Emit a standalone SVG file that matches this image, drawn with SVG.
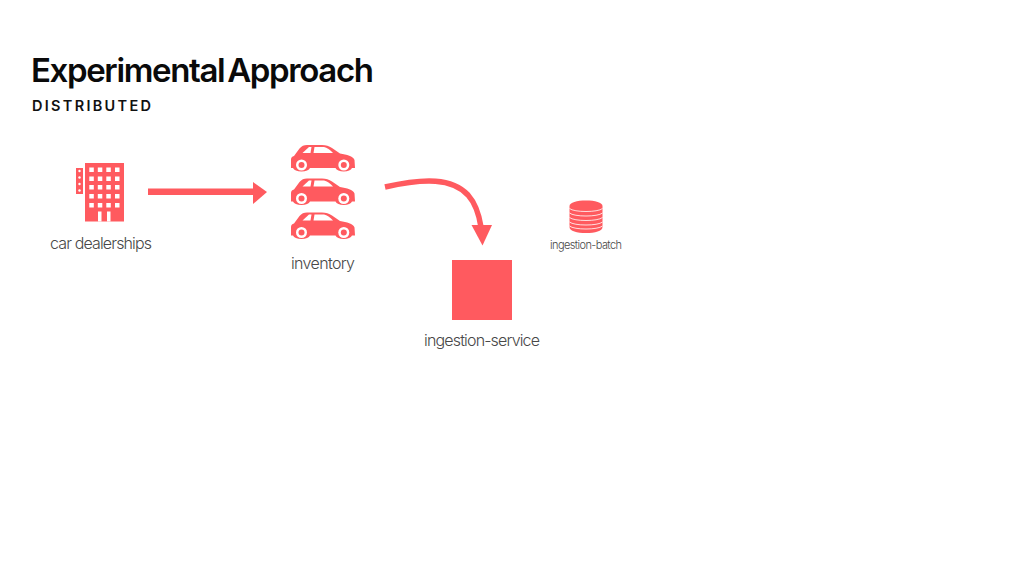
<svg xmlns="http://www.w3.org/2000/svg" width="1024" height="576" viewBox="0 0 1024 576">
<style>
.f{fill:#ff5a5f}
.w{fill:#fff}
.l{font-family:"Inter","Liberation Sans",sans-serif;font-weight:300;fill:#484848;text-anchor:middle}
.c{fill:none;stroke:#ff5a5f}
</style>
<defs>
<g id="car">
<path class="f" d="M0 15C0 13 1 12 3 11.500L8.500 4C10.500 1.500 13 0.500 16 0.500L31 0.500C35 0.500 38 1.500 41 3.500L49 9C56 10 62 11.500 63.500 15.500L64 23.500L61 23.500C60 25.500 57 27 52.800 27C48.500 27 45.500 25.500 44.500 23.500L19 23.500C18 25.500 15 27 10.500 27C6 27 3 25.500 2 23.500L0 23.500Z"/>
<path class="w" d="M11.500 8.500L18 2.500L20.500 2.500L19.500 8.500Z"/>
<path class="w" d="M23.500 2.500L33 2.500C36 3 39 5.500 42 8.500L22.500 8.500Z"/>
<circle class="w" cx="10.500" cy="20.500" r="5.500"/>
<circle class="f" cx="10.500" cy="20.500" r="3"/>
<circle class="w" cx="52.800" cy="20.500" r="5.500"/>
<circle class="f" cx="52.800" cy="20.500" r="3"/>
</g>
</defs>
<rect width="1024" height="576" fill="#fff"/>
<text x="31" y="81.500" font-family="Inter,'Liberation Sans',sans-serif" font-size="33" font-weight="600" word-spacing="-4" fill="#0a0a0a" textLength="343" lengthAdjust="spacing">Experimental Approach</text>
<text x="32" y="110.500" font-family="Inter,'Liberation Sans',sans-serif" font-size="14.500" font-weight="600" fill="#111" textLength="119" lengthAdjust="spacing">DISTRIBUTED</text>
<g id="connectors">
<path class="c" d="M148 191.700H255" stroke-width="6.500"/>
<polygon class="f" points="253,182 267,192 253,204"/>
<path class="c" d="M385 187C425 178 452 178 468 195C476 204 479 214 481 227" stroke-width="5.500"/>
<polygon class="f" points="471.500,225 492,225 482.500,245.500"/>
</g>
<g id="car-dealerships">
<rect class="f" x="85" y="163" width="39" height="58.500"/>
<g class="w">
<rect x="89.300" y="167.500" width="4.500" height="4.500"/><rect x="97.800" y="167.500" width="4.500" height="4.500"/><rect x="106.300" y="167.500" width="4.500" height="4.500"/><rect x="115" y="167.500" width="4.500" height="4.500"/>
<rect x="89.300" y="176.500" width="4.500" height="4.500"/><rect x="97.800" y="176.500" width="4.500" height="4.500"/><rect x="106.300" y="176.500" width="4.500" height="4.500"/><rect x="115" y="176.500" width="4.500" height="4.500"/>
<rect x="89.300" y="185" width="4.500" height="4.500"/><rect x="97.800" y="185" width="4.500" height="4.500"/><rect x="106.300" y="185" width="4.500" height="4.500"/><rect x="115" y="185" width="4.500" height="4.500"/>
<rect x="89.300" y="194" width="4.500" height="4.500"/><rect x="97.800" y="194" width="4.500" height="4.500"/><rect x="106.300" y="194" width="4.500" height="4.500"/><rect x="115" y="194" width="4.500" height="4.500"/>
<rect x="89.300" y="203" width="4.500" height="4.500"/><rect x="97.800" y="203" width="4.500" height="4.500"/><rect x="106.300" y="203" width="4.500" height="4.500"/><rect x="115" y="203" width="4.500" height="4.500"/>
<rect x="98" y="211.500" width="3.500" height="10"/><rect x="107" y="211.500" width="3.500" height="10"/>
</g>
<rect class="f" x="76" y="168" width="7" height="26"/>
<g class="w"><circle cx="79.500" cy="171" r="1.200"/><circle cx="79.500" cy="177.500" r="1.200"/><circle cx="79.500" cy="184" r="1.200"/><circle cx="79.500" cy="190.500" r="1.200"/></g>
<text class="l" x="101" y="249" font-size="16" textLength="102" lengthAdjust="spacing">car dealerships</text>
</g>
<g id="inventory">
<use href="#car" x="291" y="144.500"/>
<use href="#car" x="291" y="178"/>
<use href="#car" x="291" y="212"/>
<text class="l" x="323" y="269" font-size="16" textLength="64" lengthAdjust="spacing">inventory</text>
</g>
<g id="ingestion-service">
<rect class="f" x="452" y="260" width="60" height="60"/>
<text class="l" x="482" y="346" font-size="16" textLength="116" lengthAdjust="spacing">ingestion-service</text>
</g>
<g id="ingestion-batch">
<path class="f" d="M569.500 206C569.500 202.500 577 200.500 586 200.500C595 200.500 602.500 202.500 602.500 206V227C602.500 231 595 233 586 233C577 233 569.500 231 569.500 227Z"/>
<g fill="none" stroke="#fff" stroke-width="0.800"><path d="M569.500 208.500C574 212.500 598 212.500 602.500 208.500"/><path d="M569.500 213C574 217 598 217 602.500 213"/><path d="M569.500 217.500C574 221.500 598 221.500 602.500 217.500"/><path d="M569.500 222C574 226 598 226 602.500 222"/><path d="M569.500 226C574 230 598 230 602.500 226"/></g>
<text class="l" x="586" y="249" font-size="11" fill="#555" textLength="72" lengthAdjust="spacing">ingestion-batch</text>
</g>
</svg>
